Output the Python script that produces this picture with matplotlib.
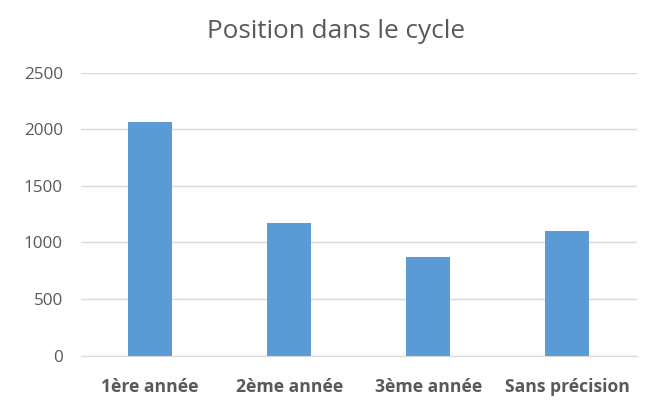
import matplotlib
matplotlib.use("Agg")
import matplotlib.pyplot as plt

categories = ["1ère année", "2ème année", "3ème année", "Sans précision"]
values = [2064, 1175, 874, 1100]
yticks = [0, 500, 1000, 1500, 2000, 2500]

plt.rcParams['font.family'] = ['Open Sans', 'DejaVu Sans']

fig = plt.figure(figsize=(6.55, 4.04), dpi=100)
ax = fig.add_axes([0.1232, 0.1196, 0.8488, 0.7004])

x = range(len(categories))
ax.bar(x, values, width=0.314, color="#5B9BD5", zorder=3)
ax.set_xlim(-0.5, len(categories) - 0.5)
ax.set_ylim(0, 2500)
ax.set_yticks(yticks)
ax.set_yticklabels([str(t) for t in yticks], fontsize=12.3, color="#595959")
ax.set_xticks(list(x))
ax.set_xticklabels(categories, fontsize=12.6, fontweight="bold", color="#595959")
ax.tick_params(axis="both", length=0)
ax.tick_params(axis="y", pad=13)
ax.tick_params(axis="x", pad=16)
ax.grid(axis="y", color="#D9D9D9", linewidth=1, zorder=0)
for s in ["top", "right", "left"]:
    ax.spines[s].set_visible(False)
ax.spines["bottom"].set_color("#D9D9D9")
ax.spines["bottom"].set_zorder(4)

fig.text(0.513, 0.922, "Position dans le cycle", ha="center", va="center",
         fontsize=18.8, color="#595959")

fig.savefig("out.png", dpi=100)
